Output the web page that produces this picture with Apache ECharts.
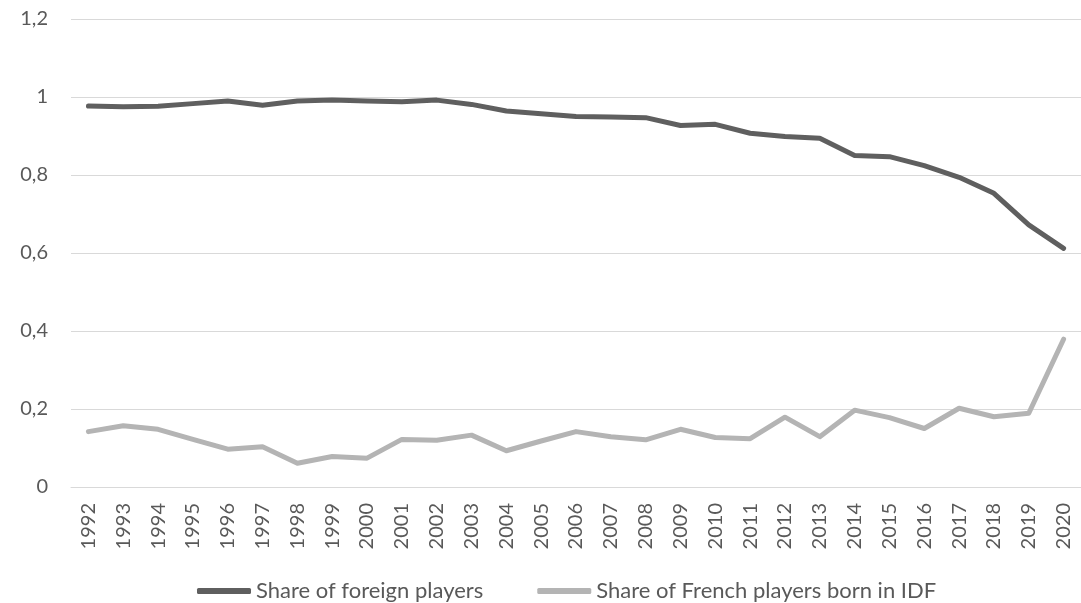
<!DOCTYPE html>
<html>
<head>
<meta charset="utf-8">
<script src="https://cdn.jsdelivr.net/npm/echarts@6/dist/echarts.min.js"></script>
<style>
  html, body { margin: 0; padding: 0; background: #fff; }
  #main { width: 1081px; height: 603px; }
</style>
</head>
<body>
<div id="main"></div>
<script>
// years on the x axis
var years = ['1992','1993','1994','1995','1996','1997','1998','1999','2000','2001',
             '2002','2003','2004','2005','2006','2007','2008','2009','2010','2011',
             '2012','2013','2014','2015','2016','2017','2018','2019','2020'];

// share of foreign players
var foreignShare = [0.977, 0.975, 0.976, 0.983, 0.990, 0.979, 0.990, 0.992, 0.990, 0.988,
                    0.992, 0.981, 0.964, 0.957, 0.950, 0.949, 0.947, 0.927, 0.930, 0.907,
                    0.899, 0.894, 0.850, 0.847, 0.824, 0.794, 0.753, 0.672, 0.612];

// share of French players born in IDF
var idfShare = [0.142, 0.157, 0.148, 0.122, 0.097, 0.103, 0.061, 0.078, 0.074, 0.122,
                0.120, 0.133, 0.093, 0.118, 0.142, 0.129, 0.121, 0.148, 0.127, 0.124,
                0.179, 0.129, 0.197, 0.178, 0.150, 0.202, 0.180, 0.189, 0.379];

var seriesNames = ['Share of foreign players', 'Share of French players born in IDF'];

var myChart = echarts.init(document.getElementById('main'));

var fontName = 'Lato';
var textColor = '#595959';

var option = {
    animation: false,
    backgroundColor: '#ffffff',
    grid: {
        left: 71,
        right: -8,
        top: 19,
        bottom: 116
    },
    legend: {
        data: seriesNames,
        top: 575,
        left: 192,
        icon: 'roundRect',
        itemWidth: 54,
        itemHeight: 6,
        itemGap: 54,
        textStyle: {
            fontFamily: fontName,
            fontSize: 22,
            color: textColor
        }
    },
    xAxis: {
        type: 'category',
        data: years,
        boundaryGap: true,
        axisLine: { show: true, lineStyle: { color: '#d9d9d9', width: 1 } },
        axisTick: { show: false },
        axisLabel: {
            rotate: 90,
            margin: 16,
            interval: 0,
            fontFamily: fontName,
            fontSize: 20,
            color: textColor
        }
    },
    yAxis: {
        type: 'value',
        min: 0,
        max: 1.2,
        interval: 0.2,
        axisLine: { show: false },
        axisTick: { show: false },
        splitLine: { lineStyle: { color: '#d9d9d9', width: 1 } },
        axisLabel: {
            margin: 23,
            fontFamily: fontName,
            fontSize: 20,
            color: textColor,
            formatter: function (v) {
                return String(+v.toFixed(1)).replace('.', ',');
            }
        }
    },
    series: [
        {
            name: seriesNames[0],
            type: 'line',
            data: foreignShare,
            symbol: 'none',
            itemStyle: { color: '#5f5f5f' },
            lineStyle: { color: '#5f5f5f', width: 5, cap: 'round', join: 'round' }
        },
        {
            name: seriesNames[1],
            type: 'line',
            data: idfShare,
            symbol: 'none',
            itemStyle: { color: '#b4b4b4' },
            lineStyle: { color: '#b4b4b4', width: 5, cap: 'round', join: 'round' }
        }
    ]
};

myChart.setOption(option);
</script>
</body>
</html>
